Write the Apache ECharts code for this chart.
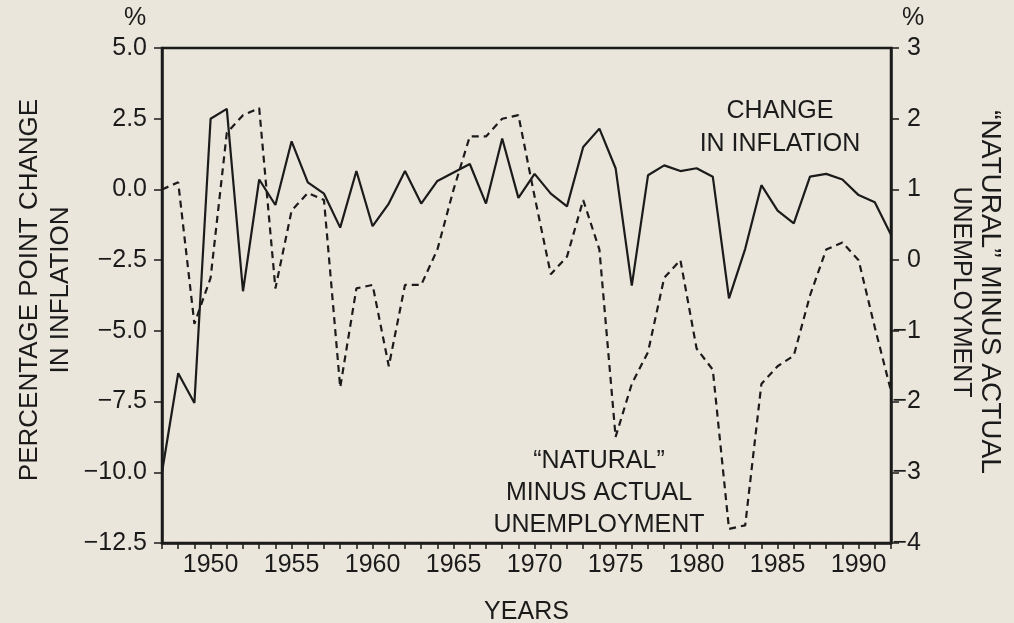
<!DOCTYPE html>
<html>
<head>
<meta charset="utf-8">
<script src="https://cdn.jsdelivr.net/npm/echarts@6/dist/echarts.min.js"></script>
<style>
  html, body { margin: 0; padding: 0; background: #ebe6db; }
  #chart { width: 1014px; height: 623px; }
</style>
</head>
<body>
<div id="chart"></div>
<script>
// Years on the horizontal axis
const years = [
  1947, 1948, 1949, 1950, 1951, 1952, 1953, 1954, 1955, 1956,
  1957, 1958, 1959, 1960, 1961, 1962, 1963, 1964, 1965, 1966,
  1967, 1968, 1969, 1970, 1971, 1972, 1973, 1974, 1975, 1976,
  1977, 1978, 1979, 1980, 1981, 1982, 1983, 1984, 1985, 1986,
  1987, 1988, 1989, 1990, 1991, 1992
];

// Percentage point change in inflation (left axis)
const inflationChange = [
  -10.0, -6.5, -7.55, 2.5, 2.85, -3.6, 0.35, -0.55, 1.7, 0.25,
  -0.15, -1.35, 0.65, -1.3, -0.5, 0.65, -0.5, 0.3, 0.6, 0.9,
  -0.5, 1.8, -0.3, 0.55, -0.15, -0.6, 1.5, 2.15, 0.75, -3.4,
  0.5, 0.85, 0.65, 0.75, 0.45, -3.85, -2.1, 0.15, -0.75, -1.2,
  0.45, 0.55, 0.35, -0.2, -0.45, -1.6
];

// "Natural" minus actual unemployment rate (right axis)
const unemploymentGap = [
  1.0, 1.1, -0.9, -0.25, 1.8, 2.05, 2.15, -0.4, 0.7, 0.95,
  0.85, -1.8, -0.4, -0.35, -1.5, -0.35, -0.35, 0.15, 1.0, 1.75,
  1.75, 2.0, 2.05, 0.9, -0.2, 0.05, 0.85, 0.15, -2.5, -1.75,
  -1.3, -0.25, 0.0, -1.25, -1.55, -3.8, -3.75, -1.75, -1.5, -1.35,
  -0.5, 0.15, 0.25, 0.0, -0.95, -1.85
];

// Axis ranges and labelled years
const leftAxisRange = { min: -12.5, max: 5.0, step: 2.5 };
const rightAxisRange = { min: -4, max: 3, step: 1 };
const labelledYears = [1950, 1955, 1960, 1965, 1970, 1975, 1980, 1985, 1990];

const ink = '#1b1b1b';
const font = '"Liberation Sans", Arial, Helvetica, sans-serif';
const fontSize = 25;
const fontSpec = fontSize + 'px ' + font;

function signed(v, digits) {
  const s = Math.abs(v).toFixed(digits);
  return v < 0 ? '\u2212' + s : s;
}

// One rotated line of an axis title, centred on (cx, cy)
function titleLine(text, cx, cy, angle, size) {
  return {
    type: 'text', x: cx, y: cy, rotation: angle,
    style: {
      text: text, fill: ink, font: size + 'px ' + font,
      align: 'center', verticalAlign: 'middle',
      textAlign: 'center', textVerticalAlign: 'middle'
    }
  };
}

const chart = echarts.init(document.getElementById('chart'), null, { renderer: 'canvas' });

chart.setOption({
  backgroundColor: '#ebe6db',
  animation: false,
  grid: {
    left: 162, right: 123, top: 48, bottom: 80,
    containLabel: false,
    outerBoundsMode: 'none',
    show: true, borderColor: ink, borderWidth: 2.5,
    backgroundColor: 'transparent'
  },
  xAxis: {
    type: 'category',
    data: years,
    boundaryGap: false,
    name: 'YEARS',
    nameLocation: 'middle',
    nameGap: 57,
    nameTextStyle: { color: ink, fontFamily: font, fontSize: fontSize },
    axisLine: { onZero: false, lineStyle: { color: ink, width: 2.5 } },
    axisTick: { show: true, interval: 0, length: 6, lineStyle: { color: ink, width: 1.5 } },
    axisLabel: {
      color: ink, fontFamily: font, fontSize: fontSize, margin: 10,
      interval: function (i, v) { return labelledYears.indexOf(Number(v)) >= 0; }
    },
    splitLine: { show: false }
  },
  yAxis: [
    {
      type: 'value',
      position: 'left',
      min: leftAxisRange.min, max: leftAxisRange.max, interval: leftAxisRange.step,
      axisLine: { show: true, onZero: false, lineStyle: { color: ink, width: 2.5 } },
      axisTick: { show: true, length: 8, lineStyle: { color: ink, width: 1.5 } },
      axisLabel: {
        color: ink, fontFamily: font, fontSize: fontSize, margin: 15,
        formatter: function (v) { return signed(v, 1); }
      },
      splitLine: { show: false }
    },
    {
      type: 'value',
      position: 'right',
      min: rightAxisRange.min, max: rightAxisRange.max, interval: rightAxisRange.step,
      axisLine: { show: true, onZero: false, lineStyle: { color: ink, width: 2.5 } },
      axisTick: { show: true, length: 8, lineStyle: { color: ink, width: 1.5 } },
      axisLabel: {
        color: ink, fontFamily: font, fontSize: fontSize, margin: 30, align: 'right',
        formatter: function (v) { return signed(v, 0); }
      },
      splitLine: { show: false }
    }
  ],
  graphic: [
    { type: 'text', left: 124, top: 6, style: { text: '%', fill: ink, font: fontSpec } },
    { type: 'text', left: 902, top: 6, style: { text: '%', fill: ink, font: fontSpec } },
    // left axis title, read bottom to top
    titleLine('PERCENTAGE POINT CHANGE', 30, 290, Math.PI / 2, 26),
    titleLine('IN INFLATION', 61, 290, Math.PI / 2, 26),
    // right axis title, read top to bottom
    titleLine('\u201CNATURAL\u201D MINUS ACTUAL', 990, 292, -Math.PI / 2, 28),
    titleLine('UNEMPLOYMENT', 961, 292, -Math.PI / 2, 25),
    {
      type: 'text', x: 780, y: 95,
      style: { text: 'CHANGE\nIN INFLATION', fill: ink, font: fontSpec, textAlign: 'center', align: 'center', lineHeight: 33 }
    },
    {
      type: 'text', x: 599, y: 445,
      style: { text: '\u201CNATURAL\u201D\nMINUS ACTUAL\nUNEMPLOYMENT', fill: ink, font: fontSpec, textAlign: 'center', align: 'center', lineHeight: 32 }
    }
  ],
  series: [
    {
      name: 'Change in inflation',
      type: 'line',
      yAxisIndex: 0,
      data: inflationChange,
      symbol: 'none',
      lineStyle: { color: ink, width: 2.2, type: 'solid' },
      z: 3
    },
    {
      name: 'Natural minus actual unemployment',
      type: 'line',
      yAxisIndex: 1,
      data: unemploymentGap,
      symbol: 'none',
      lineStyle: { color: ink, width: 2.2, type: [7, 5] },
      z: 2
    }
  ]
});
</script>
</body>
</html>
